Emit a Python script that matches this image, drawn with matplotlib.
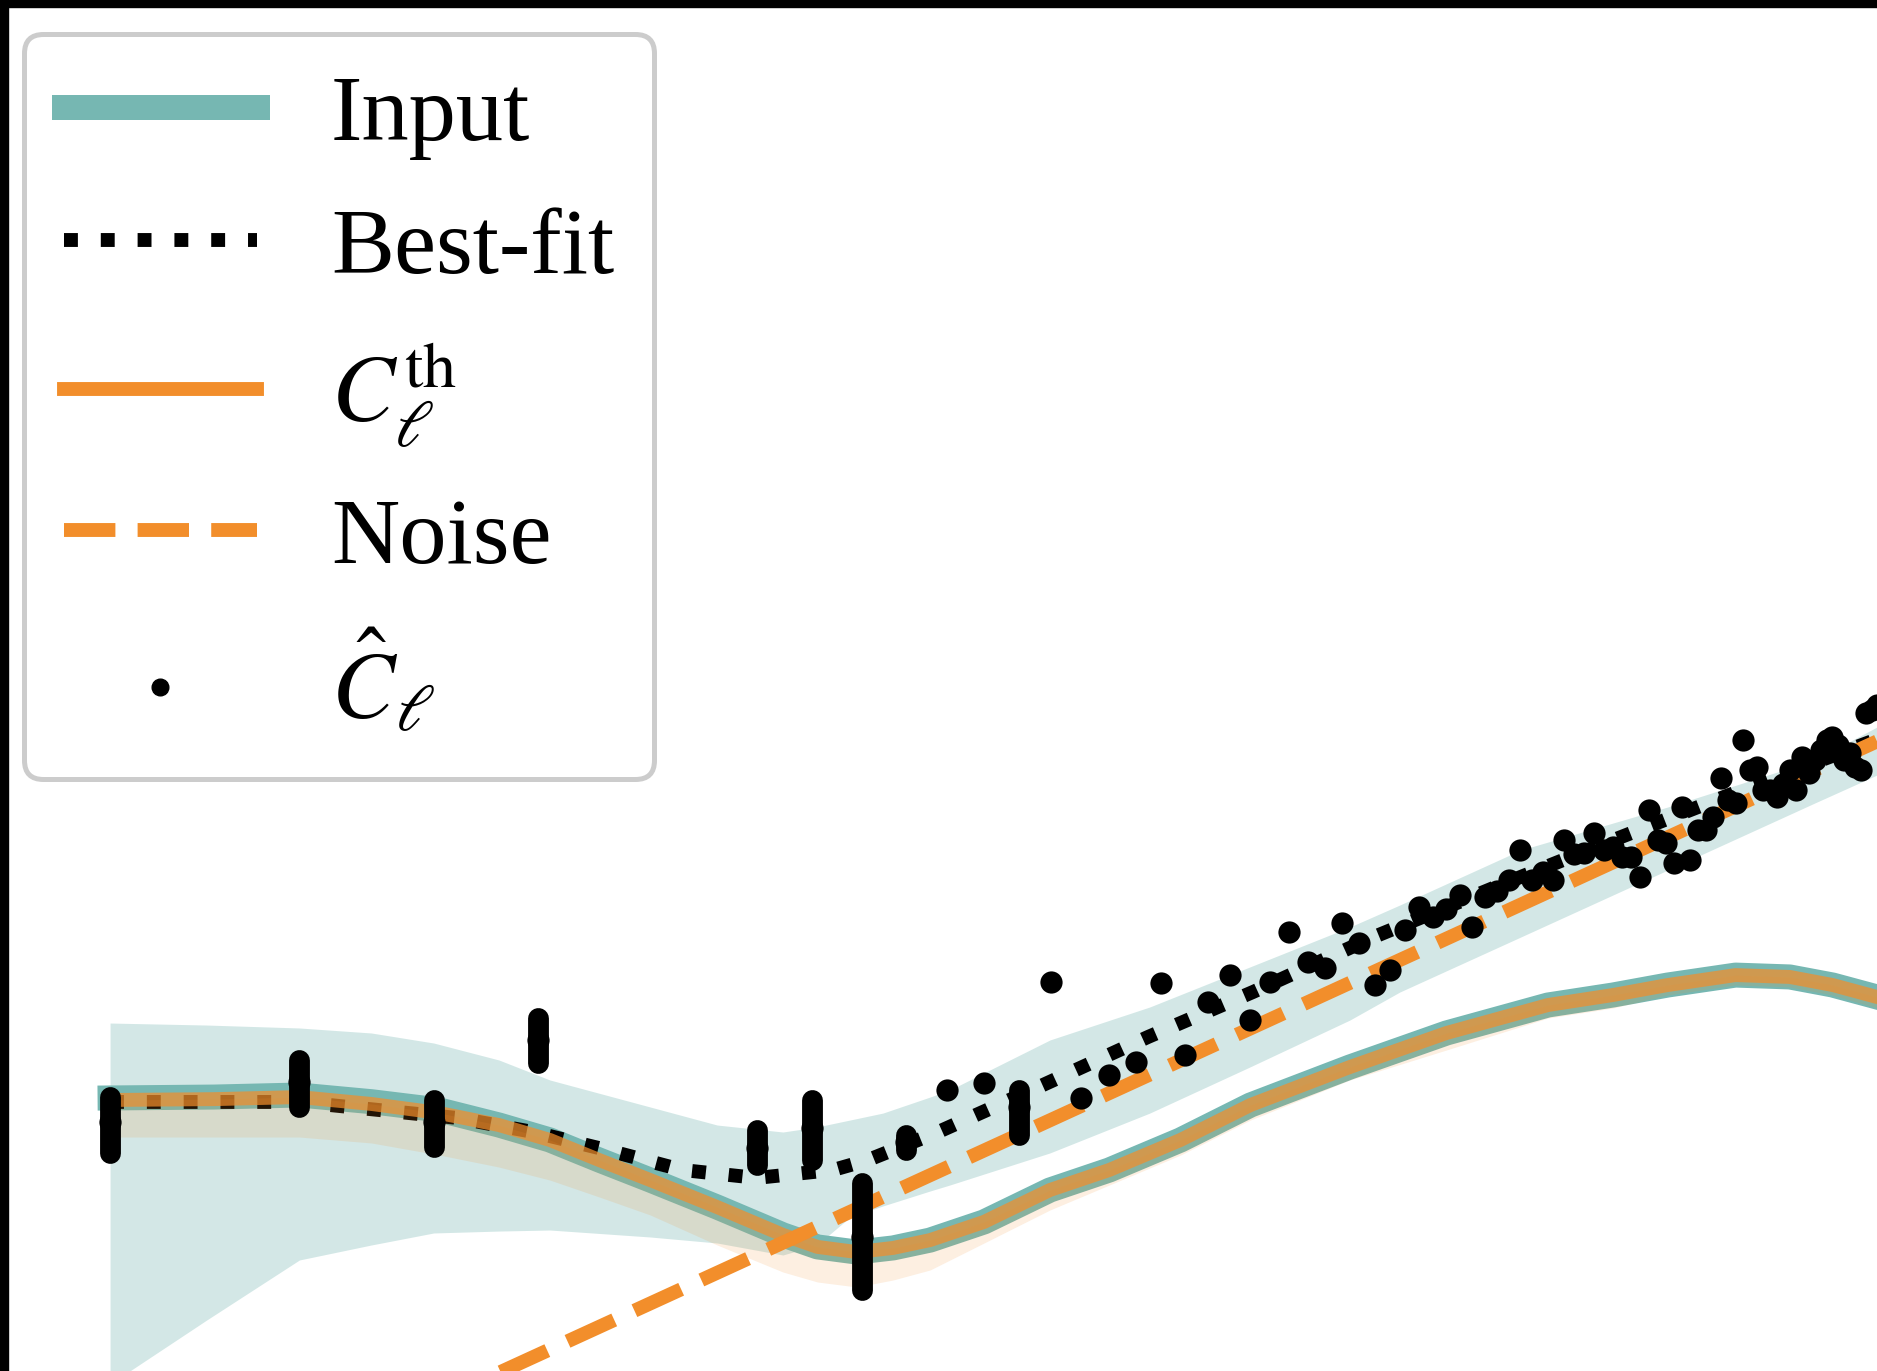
import matplotlib
matplotlib.use("Agg")
import matplotlib.pyplot as plt
from matplotlib.lines import Line2D
from matplotlib.patches import Rectangle

plt.rcParams['font.family'] = ['Liberation Serif', 'DejaVu Serif']
plt.rcParams['mathtext.fontset'] = 'stix'

TEAL = '#76b7b2'
ORANGE = '#f28e2b'

# ---------------- data ----------------
# theory curve / input spectrum
th_ell = [2, 2.5, 3, 3.5, 4.05, 4.6, 5.13, 5.7, 6.36, 7.34, 8.45, 9.1, 9.9, 10.7,
          11.58, 13, 14.97, 17, 19.8, 23, 28.46, 35, 43.5, 50, 56.2, 65, 73, 80, 88]
cl_input = [12.84, 12.95, 13.20, 12.40, 11.47, 9.97, 8.67, 7.19, 5.96, 4.63, 3.57,
            3.19, 3.04, 3.16, 3.40, 4.03, 5.43, 6.55, 8.67, 12.02, 17.15, 23.57,
            30.62, 33.62, 36.9, 40.5, 39.8, 36.92, 33.0]
cl_th = [12.60, 12.70, 12.95, 12.14, 11.15, 9.97, 8.67, 7.19, 5.96, 4.63, 3.57,
         3.19, 3.04, 3.16, 3.40, 4.03, 5.43, 6.55, 8.67, 12.02, 17.15, 23.57,
         30.62, 33.62, 36.9, 40.5, 39.8, 36.92, 33.0]
cl_th_lo = [8.91, 8.91, 8.91, 8.43, 7.53, 6.73, 5.96, 5.09, 4.30, 3.248, 2.523,
            2.298, 2.193, 2.342, 2.571, 3.309, 4.505, 5.69, 7.53, 10.45, 15.19,
            20.11, 27.11, 29.77, 33.62, 36.92, 36.24, 33.62, 29.77]

# best fit
bf_ell = [2, 3, 4.21, 4.95, 5.80, 6.81, 7.99, 9.41, 10.14, 11.78, 14.75, 18.47,
          23.12, 30, 40, 50, 60, 70, 88]
cl_bf = [12.37, 12.37, 10.65, 9.34, 7.89, 6.55, 6.08, 6.55, 7.19, 9.34, 14.50,
         22.71, 34.57, 58, 97, 143, 195, 253, 367]

# noise (power law)
noise_ell = [2, 88]
noise = [0.186, 360.0]

# input uncertainty band
band_ell = [2, 2.46, 3.0, 3.5, 4.0, 4.6, 5.13, 6.36, 7.34, 8.45, 9.09, 9.76,
            10.47, 11.58, 12.08, 14.97, 18.54, 22.97, 28.46, 31.67, 41.04, 56.23,
            77.03, 88]
band_hi = [25.87, 25.39, 24.70, 23.57, 21.46, 18.31, 15.19, 11.80, 9.97, 9.34,
           9.79, 10.45, 11.15, 12.95, 13.83, 22.08, 30.06, 43.69, 63.49, 77.98,
           130.4, 195.0, 302.5, 411.8]
band_lo = [0.885, 1.611, 2.823, 3.248, 3.634, 3.70, 3.736, 3.50, 3.309, 2.958,
           3.248, 4.220, 4.68, 5.38, 5.69, 7.68, 11.15, 17.15, 26.61, 34.57,
           57.83, 108.2, 202.4, 262.9]

# measured spectrum
chat_ell = [2, 3, 4, 5] + list(range(8, 89))
chat = [10.26, 14.91, 10.26, 22.08,
        8.04, 9.70, 3.50, 8.51, 13.83, 14.77, 11.80, 37.96, 12.84, 15.91,
        17.97, 37.61, 19.19, 31.49, 40.53, 26.61, 37.96, 60.59, 45.77, 43.28,
        65.91, 54.67, 36.92, 42.48, 61.73, 76.54, 69.71, 75.12, 85.61, 63.49,
        84.03, 88.88, 98.51, 130.4, 98.51, 106.2, 98.51, 143.2, 125.7, 126.8,
        152.9, 130.4, 134.1, 122.2, 122.2, 101.3, 189.5, 143.2, 139.2, 115.5,
        195.0, 118.8, 157.2, 157.2, 177.6, 255.6, 208.1, 202.4, 364.7, 275.5,
        283.4, 228.5, 228.5, 214.1, 241.7, 275.5, 228.5, 311.2, 267.9, 302.5,
        332.1, 364.7, 375.1, 348.0, 302.5, 322.9, 283.4, 275.5, 469.4, 482.8,
        505.8]
# vertical spread of the low-ell estimates
spread_ell = [2, 3, 4, 5, 8, 9, 10, 11, 14]
spread_lo = [7.68, 11.80, 8.12, 17.80, 6.86, 7.19, 2.13, 7.9, 9.08]
spread_hi = [12.95, 18.31, 12.60, 27.11, 9.52, 12.60, 5.80, 9.1, 13.83]

labels = ['Input', 'Best-fit', r'$C_\ell^{\rm th}$', 'Noise', r'$\hat{C}_\ell$']

# ---------------- figure ----------------
W, H = 1877, 1371
fig = plt.figure(figsize=(W / 100, H / 100), dpi=100, facecolor='white')
ax = fig.add_axes([0, 0, 1, 1])
ax.set_xscale('log')
ax.set_yscale('log')
ax.set_xlim(1.580, 88.0)
ax.set_ylim(1.0, 3.685e5)
ax.axis('off')

ax.fill_between(band_ell, band_lo, band_hi, color=TEAL, alpha=0.32, lw=0, zorder=1)
ax.plot(th_ell, cl_input, color=TEAL, lw=18, zorder=2)
ax.plot(bf_ell, cl_bf, color='k', ls=':', lw=10, zorder=3)
ax.fill_between(th_ell, cl_th_lo, cl_th, color=ORANGE, alpha=0.14, lw=0, zorder=4)
ax.plot(th_ell, cl_th, color=ORANGE, lw=10, alpha=0.72, zorder=5)
ax.plot(noise_ell, noise, color=ORANGE, ls='--', lw=10, zorder=6)

for e, lo, hi in zip(spread_ell, spread_lo, spread_hi):
    ax.plot([e, e], [lo, hi], color='k', lw=15, solid_capstyle='round', zorder=7)
ax.plot(chat_ell, chat, 'o', color='k', ms=16, mew=0, zorder=8)

handles = [Line2D([], [], color=TEAL, lw=18),
           Line2D([], [], color='k', ls=':', lw=10),
           Line2D([], [], color=ORANGE, lw=10),
           Line2D([], [], color=ORANGE, ls='--', lw=10),
           Line2D([], [], color='k', marker='o', ls='none', ms=12)]
leg = ax.legend(handles, labels, loc='upper left',
                bbox_to_anchor=(24 / W, 1 - 34 / H), bbox_transform=fig.transFigure,
                borderaxespad=0, fontsize=68, handlelength=2.05, handletextpad=0.78,
                borderpad=0.42, labelspacing=0.5, frameon=True, fancybox=True,
                framealpha=1, edgecolor='#cccccc')
leg.get_frame().set_linewidth(3.6)
leg.set_zorder(20)

# black edges of the cropped picture
fig.add_artist(Rectangle((0, 0), 8 / W, 1, transform=fig.transFigure,
                         color='k', zorder=100))
fig.add_artist(Rectangle((0, 1 - 7 / H), 1, 7 / H, transform=fig.transFigure,
                         color='k', zorder=100))

fig.savefig('out.png', dpi=100, facecolor='white')
